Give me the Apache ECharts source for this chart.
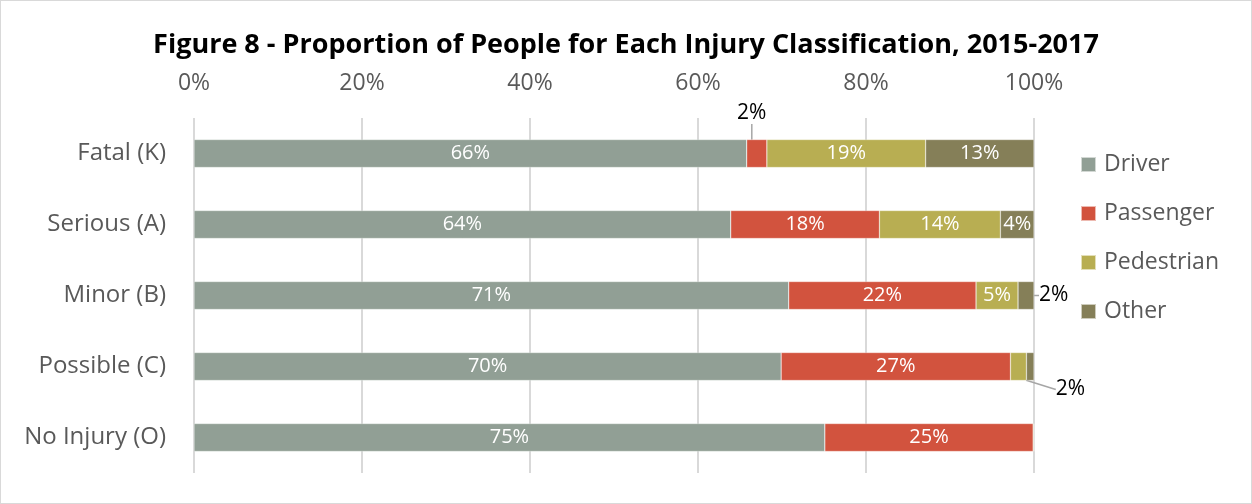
<!DOCTYPE html>
<html>
<head>
<meta charset="utf-8">
<script src="https://cdn.jsdelivr.net/npm/echarts@6/dist/echarts.min.js"></script>
<style>
  html, body { margin: 0; padding: 0; background: #fff; }
  #chart { width: 1250px; height: 502px; border: 1px solid #d9d9d9; }
</style>
</head>
<body>
<div id="chart"></div>
<script>
// categories, top to bottom
const categories = ['Fatal (K)', 'Serious (A)', 'Minor (B)', 'Possible (C)', 'No Injury (O)']
const seriesNames = ['Driver', 'Passenger', 'Pedestrian', 'Other']
// percent of people in each class
const driver     = [65.8, 63.9, 70.8, 69.9, 75.1]
const passenger  = [2.4, 17.7, 22.3, 27.3, 24.8]
const pedestrian = [18.9, 14.4, 5.0, 1.9, 0.1]
const other      = [12.9, 4.0, 1.9, 0.9, 0]
const xTicks = [0, 20, 40, 60, 80, 100]
const colors = ['#919f95', '#d2533e', '#b8ae52', '#857f58']

const FONT = '"Open Sans", Lato, sans-serif'
const values = [driver, passenger, pedestrian, other]

// labels that sit outside the bar (small segments)
function labelFor(si, di) {
  const v = values[si][di]
  if (si === 1 && di === 0) return { show: true, color: '#000', fontSize: 21 }                    // Fatal passenger, above with leader
  if (si === 3 && di === 2) return { show: true, position: 'right', distance: 5, color: '#000', fontSize: 21 } // Minor other
  if (si === 2 && di === 3) return { show: true, color: '#000', fontSize: 21 }                    // Possible pedestrian, below-right with leader
  if (v < 3) return { show: false }
  return { show: true }
}

const chart = echarts.init(document.getElementById('chart'))
chart.setOption({
  animation: false,
  textStyle: { fontFamily: FONT },
  title: {
    text: 'Figure 8 - Proportion of People for Each Injury Classification, 2015-2017',
    left: 'center', top: 26,
    textStyle: { fontFamily: FONT, fontSize: 27, fontWeight: 'bold', color: '#000' }
  },
  legend: {
    orient: 'vertical', left: 1074, top: 147,
    itemWidth: 15, itemHeight: 15, itemGap: 26, icon: 'rect',
    textStyle: { fontFamily: FONT, fontSize: 23, color: '#595959', padding: [0, 0, 0, 3] },
    data: seriesNames
  },
  grid: { left: 193, right: 217, top: 117, bottom: 30 },
  xAxis: {
    type: 'value', position: 'top', min: 0, max: 100, interval: 20,
    axisLine: { show: false }, axisTick: { show: false },
    axisLabel: { formatter: '{value}%', fontSize: 23, color: '#595959', margin: 23, fontFamily: FONT },
    splitLine: { lineStyle: { color: '#d9d9d9', width: 2 } }
  },
  yAxis: {
    type: 'category', inverse: true, data: categories,
    axisLine: { show: false }, axisTick: { show: false },
    axisLabel: { fontSize: 24, color: '#595959', margin: 28, fontFamily: FONT }
  },
  series: seriesNames.map((name, si) => ({
    name, type: 'bar', stack: 'total', barWidth: 28,
    itemStyle: { color: colors[si], borderColor: 'rgba(255,255,255,0.6)', borderWidth: 0.5 },
    label: { color: '#fff', fontSize: 20, fontFamily: FONT, formatter: p => Math.round(p.value) + '%' },
    labelLine: { show: true, lineStyle: { color: '#a6a6a6', width: 1.5 } },
    labelLayout: p => {
      if (si === 1 && p.dataIndex === 0) return { dx: -5, dy: -40 }
      if (si === 2 && p.dataIndex === 3) return { dx: 52, dy: 23 }
      return {}
    },
    data: values[si].map((v, di) => ({ value: v, label: labelFor(si, di) }))
  }))
})
</script>
</body>
</html>
